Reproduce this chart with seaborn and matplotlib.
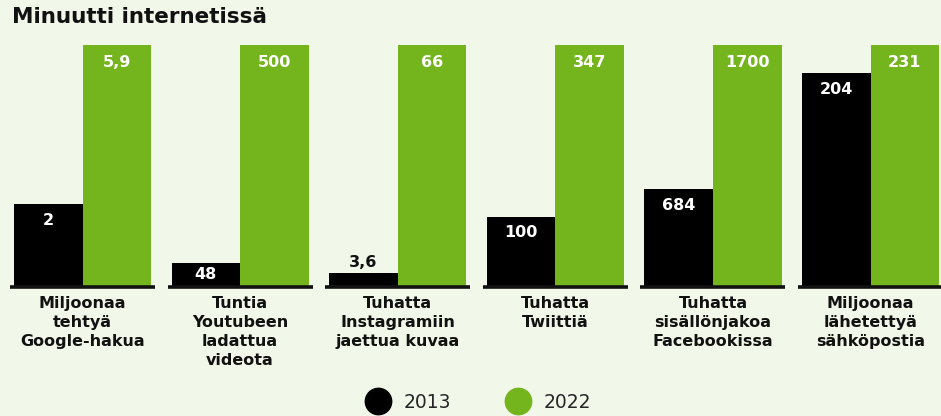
import matplotlib
matplotlib.use("Agg")
import matplotlib.pyplot as plt
import seaborn as sns
import pandas as pd
from matplotlib.lines import Line2D

# ---- data ----
categories = [
    "Miljoonaa\ntehtyä\nGoogle-hakua",
    "Tuntia\nYoutubeen\nladattua\nvideota",
    "Tuhatta\nInstagramiin\njaettua kuvaa",
    "Tuhatta\nTwiittiä",
    "Tuhatta\nsisällönjakoa\nFacebookissa",
    "Miljoonaa\nlähetettyä\nsähköpostia",
]
values_2013 = [2, 48, 3.6, 100, 684, 204]
values_2022 = [5.9, 500, 66, 347, 1700, 231]
years = ["2013", "2022"]
title = "Minuutti internetissä"

BG = "#f1f7e9"
GREEN = "#74b51e"
BLACK = "#000000"

sns.set_theme(style="white")
plt.rcParams["font.family"] = ["DejaVu Sans"]

rows = []
for c, a, b in zip(categories, values_2013, values_2022):
    rows.append({"cat": c, "year": "2013", "value": a, "share": a / b})
    rows.append({"cat": c, "year": "2022", "value": b, "share": 1.0})
df = pd.DataFrame(rows)

fig = plt.figure(figsize=(9.41, 4.16), dpi=100, facecolor=BG)
ax = fig.add_axes([0.0, 0.3125, 1.0, 0.8918 - 0.3125])
ax.set_facecolor(BG)

sns.barplot(data=df, x="cat", y="share", hue="year", hue_order=years,
            palette={"2013": BLACK, "2022": GREEN}, width=0.87, saturation=1,
            legend=False, ax=ax, errorbar=None, linewidth=0)

ax.set_xlim(-0.5235, 5.447)
ax.set_ylim(0, 1)
for s in ax.spines.values():
    s.set_visible(False)
ax.set_yticks([])
ax.set_xlabel("")
ax.set_ylabel("")
ax.tick_params(axis="x", length=0, pad=7)
ax.set_xticks(range(len(categories)))
ax.set_xticklabels(categories, fontsize=11.5, fontweight="bold", linespacing=1.33,
                   color="#111111")

# baselines per group
for i in range(len(categories)):
    ax.plot([i - 0.46, i + 0.46], [-0.004, -0.004], color="#111111", lw=2.6,
            solid_capstyle="butt", clip_on=False)

# value labels
px_per_unit = ax.get_window_extent().height  # pixel height for 1.0
def fmt(v):
    return str(v).replace(".", ",")

for cont, vals, col in zip(ax.containers, [values_2013, values_2022], [BLACK, GREEN]):
    for bar, v in zip(cont, vals):
        h = bar.get_height()
        x = bar.get_x() + bar.get_width() / 2
        hpx = h * px_per_unit
        if hpx >= 20:
            off = min(17 if col == GREEN else 16, hpx / 2)
            ax.annotate(fmt(v), (x, h), xytext=(0, -off * 0.72), textcoords="offset points",
                        ha="center", va="center", color="white", fontsize=11.5,
                        fontweight="bold")
        else:
            ax.annotate(fmt(v), (x, h), xytext=(0, 10 * 0.72), textcoords="offset points",
                        ha="center", va="center", color="#111111", fontsize=11.5,
                        fontweight="bold")

fig.text(12 / 941, 1 - 7 / 416, title, fontsize=15.5, fontweight="bold",
         ha="left", va="top", color="#111111")

handles = [Line2D([], [], marker="o", linestyle="", markersize=19, color=BLACK),
           Line2D([], [], marker="o", linestyle="", markersize=19, color=GREEN)]
fig.legend(handles, years, loc="center", bbox_to_anchor=(479 / 941, 14 / 416),
           ncol=2, frameon=False, fontsize=13.5, handletextpad=0.75,
           columnspacing=3.0, handlelength=1.2)

fig.savefig("out.png", dpi=100, facecolor=BG)
